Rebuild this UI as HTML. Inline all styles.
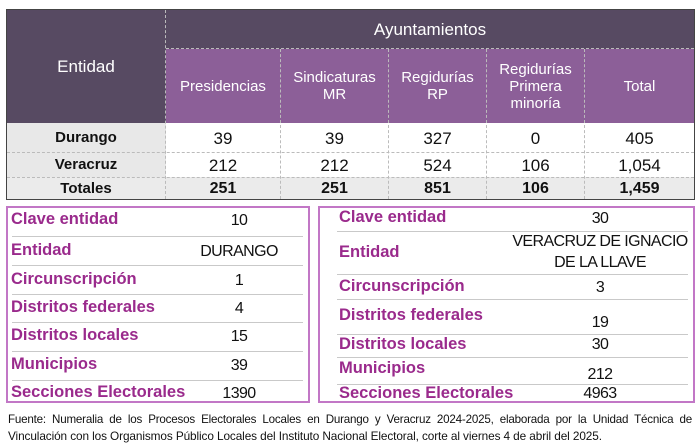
<!DOCTYPE html>
<html><head><meta charset="utf-8"><style>
body{margin:0;width:700px;height:448px;background:#fff;position:relative;overflow:hidden;font-family:"Liberation Sans",sans-serif}
.a{position:absolute}
.c{position:absolute;display:flex;align-items:center;justify-content:center;text-align:center}
.h{color:#fff;font-size:15px;line-height:17px}
.d{font-size:17px;color:#111}
.b{font-weight:bold}
.vl{position:absolute;border-left:1px dashed #bbb}
.hl{position:absolute;border-top:1px dashed #bbb}
.lab{position:absolute;color:#9a2a8c;font-weight:bold;font-size:16.5px;white-space:nowrap}
.val{position:absolute;color:#111;font-size:16px;text-align:center;line-height:21px;white-space:nowrap;letter-spacing:-0.6px}
.ln{position:absolute;height:0;border-top:1.5px solid #c9c9c9}
.foot{position:absolute;left:8px;width:684px;font-size:11.6px;line-height:17px;color:#111;white-space:nowrap}
</style></head><body>
<div class="a" style="left:6px;top:9px;width:689px;height:191px;border:1px solid #444;box-sizing:border-box"></div>
<div class="a" style="left:7px;top:10px;width:687px;height:113px;background:#574a62"></div>
<div class="a" style="left:166px;top:49px;width:528px;height:74px;background:#8c5f98"></div>
<div class="a" style="left:7px;top:123px;width:159px;height:54px;background:#e8e8e8"></div>
<div class="a" style="left:7px;top:177px;width:687px;height:22px;background:#ebebeb"></div>
<div class="vl" style="left:165px;top:10px;height:189px"></div>
<div class="vl" style="left:280px;top:49px;height:150px"></div>
<div class="vl" style="left:388px;top:49px;height:150px"></div>
<div class="vl" style="left:486px;top:49px;height:150px"></div>
<div class="vl" style="left:584px;top:49px;height:150px"></div>
<div class="hl" style="left:166px;top:48px;width:528px"></div>
<div class="hl" style="left:7px;top:152px;width:687px"></div>
<div class="hl" style="left:7px;top:177px;width:687px"></div>
<div class="c h" style="left:166px;top:10px;width:528px;height:38px;font-size:17px">Ayuntamientos</div>
<div class="c h" style="left:7px;top:10px;width:158px;height:113px;font-size:17px">Entidad</div>
<div class="c h" style="left:166px;top:49px;width:114px;height:74px">Presidencias</div>
<div class="c h" style="left:281px;top:49px;width:107px;height:74px">Sindicaturas<br>MR</div>
<div class="c h" style="left:389px;top:49px;width:97px;height:74px">Regidurías<br>RP</div>
<div class="c h" style="left:487px;top:49px;width:97px;height:74px">Regidurías<br>Primera<br>minoría</div>
<div class="c h" style="left:585px;top:49px;width:109px;height:74px">Total</div>

<div class="c d b" style="left:7px;top:123px;width:158px;height:29px;font-size:15px">Durango</div>
<div class="c d b" style="left:7px;top:152px;width:158px;height:25px;font-size:15px">Veracruz</div>
<div class="c d b" style="left:7px;top:177px;width:158px;height:23px;font-size:15px">Totales</div>

<div class="c d" style="left:166px;top:124px;width:114px;height:29px">39</div>
<div class="c d" style="left:281px;top:124px;width:107px;height:29px">39</div>
<div class="c d" style="left:389px;top:124px;width:97px;height:29px">327</div>
<div class="c d" style="left:487px;top:124px;width:97px;height:29px">0</div>
<div class="c d" style="left:585px;top:124px;width:109px;height:29px">405</div>
<div class="c d" style="left:166px;top:153px;width:114px;height:25px">212</div>
<div class="c d" style="left:281px;top:153px;width:107px;height:25px">212</div>
<div class="c d" style="left:389px;top:153px;width:97px;height:25px">524</div>
<div class="c d" style="left:487px;top:153px;width:97px;height:25px">106</div>
<div class="c d" style="left:585px;top:153px;width:109px;height:25px">1,054</div>
<div class="c d b" style="left:166px;top:177px;width:114px;height:23px;font-size:16px">251</div>
<div class="c d b" style="left:281px;top:177px;width:107px;height:23px;font-size:16px">251</div>
<div class="c d b" style="left:389px;top:177px;width:97px;height:23px;font-size:16px">851</div>
<div class="c d b" style="left:487px;top:177px;width:97px;height:23px;font-size:16px">106</div>
<div class="c d b" style="left:585px;top:177px;width:109px;height:23px;font-size:16px">1,459</div>

<div class="a" style="left:6px;top:206px;width:304px;height:197px;border:2px solid #c277c6;box-sizing:border-box"></div>
<div class="lab" style="left:11px;top:210px">Clave entidad</div><div class="val" style="left:195px;width:88px;top:210px">10</div>
<div class="ln" style="left:12px;top:236px;width:291px"></div>
<div class="lab" style="left:11px;top:241px">Entidad</div><div class="val" style="left:195px;width:88px;top:241px">DURANGO</div>
<div class="ln" style="left:12px;top:265px;width:291px"></div>
<div class="lab" style="left:11px;top:270px">Circunscripción</div><div class="val" style="left:195px;width:88px;top:270px">1</div>
<div class="ln" style="left:12px;top:294px;width:291px"></div>
<div class="lab" style="left:11px;top:298px">Distritos federales</div><div class="val" style="left:195px;width:88px;top:298px">4</div>
<div class="ln" style="left:12px;top:322px;width:291px"></div>
<div class="lab" style="left:11px;top:326px">Distritos locales</div><div class="val" style="left:195px;width:88px;top:326px">15</div>
<div class="ln" style="left:12px;top:351px;width:291px"></div>
<div class="lab" style="left:11px;top:355px">Municipios</div><div class="val" style="left:195px;width:88px;top:355px">39</div>
<div class="ln" style="left:12px;top:380px;width:291px"></div>
<div class="lab" style="left:11px;top:383px">Secciones Electorales</div><div class="val" style="left:195px;width:88px;top:383px">1390</div>

<div class="a" style="left:318px;top:206px;width:377px;height:197px;border:2px solid #c277c6;box-sizing:border-box"></div>
<div class="lab" style="left:339px;top:208px">Clave entidad</div><div class="val" style="left:510px;width:180px;top:208px">30</div>
<div class="ln" style="left:337px;top:231px;width:351px"></div>
<div class="lab" style="left:339px;top:243px">Entidad</div><div class="val" style="left:510px;width:180px;top:231px">VERACRUZ DE IGNACIO<br>DE LA LLAVE</div>
<div class="ln" style="left:337px;top:274px;width:351px"></div>
<div class="lab" style="left:339px;top:277px">Circunscripción</div><div class="val" style="left:510px;width:180px;top:277px">3</div>
<div class="ln" style="left:337px;top:299px;width:351px"></div>
<div class="lab" style="left:339px;top:306px">Distritos federales</div><div class="val" style="left:510px;width:180px;top:312px">19</div>
<div class="ln" style="left:337px;top:334px;width:351px"></div>
<div class="lab" style="left:339px;top:335px">Distritos locales</div><div class="val" style="left:510px;width:180px;top:334px">30</div>
<div class="ln" style="left:337px;top:357px;width:351px"></div>
<div class="lab" style="left:339px;top:359px">Municipios</div><div class="val" style="left:510px;width:180px;top:364px">212</div>
<div class="ln" style="left:337px;top:384px;width:351px"></div>
<div class="lab" style="left:339px;top:384px">Secciones Electorales</div><div class="val" style="left:510px;width:180px;top:383px">4963</div>

<div class="foot" style="top:411px;text-align:justify;text-align-last:justify;letter-spacing:-0.2px">Fuente: Numeralia de los Procesos Electorales Locales en Durango y Veracruz 2024-2025, elaborada por la Unidad Técnica de</div>
<div class="foot" style="top:428px;letter-spacing:-0.1px;font-size:11.8px">Vinculación con los Organismos Público Locales del Instituto Nacional Electoral, corte al viernes 4 de abril del 2025.</div>
</body></html>
